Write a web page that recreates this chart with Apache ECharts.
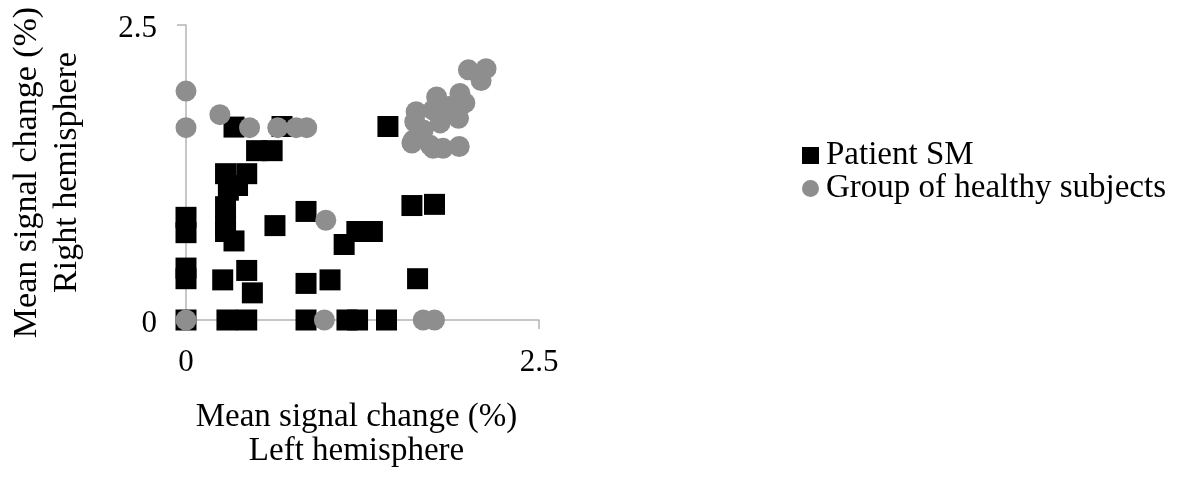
<!DOCTYPE html>
<html>
<head>
<meta charset="utf-8">
<title>Mean signal change: left vs right hemisphere</title>
<script src="https://cdn.jsdelivr.net/npm/echarts@6/dist/echarts.min.js"></script>
<style>
  html, body { margin: 0; padding: 0; background: #ffffff; }
  #chart { width: 1186px; height: 480px; }
</style>
</head>
<body>
<div id="chart"></div>
<script>
// Mean signal change (%) per region: [left hemisphere, right hemisphere]
const patientSM = [
  [0.34, 1.635], [0.68, 1.64], [1.43, 1.64],
  [0.50, 1.435], [0.61, 1.435],
  [0.28, 1.24], [0.43, 1.24],
  [0.365, 1.14], [0.30, 1.10],
  [0.28, 0.96],
  [0.28, 0.80], [0.28, 0.75], [0.34, 0.67],
  [0.63, 0.80], [0.85, 0.92],
  [0, 0.87], [0, 0.74], [0, 0.44], [0, 0.35],
  [0.26, 0.34], [0.43, 0.42], [0.47, 0.23],
  [0.85, 0.31], [1.02, 0.34], [1.12, 0.64], [1.21, 0.75], [1.32, 0.75],
  [1.60, 0.97], [1.76, 0.98], [1.64, 0.35],
  [0, 0], [0.29, 0], [0.43, 0], [0.85, 0], [1.14, 0], [1.215, 0], [1.42, 0]
];

const healthyGroup = [
  [0, 1.94], [0, 1.63], [0.24, 1.74], [0.45, 1.63], [0.65, 1.63], [0.78, 1.63], [0.855, 1.63],
  [0.99, 0.845], [0, 0], [0.98, 0], [1.68, 0], [1.76, 0],
  [2.0, 2.12], [2.125, 2.13], [2.09, 2.03],
  [1.775, 1.89], [1.94, 1.92], [1.975, 1.84], [1.86, 1.81], [1.75, 1.78],
  [1.63, 1.765], [1.62, 1.68], [1.93, 1.71], [1.8, 1.67], [1.68, 1.61],
  [1.61, 1.525], [1.6, 1.5], [1.73, 1.48], [1.75, 1.455], [1.82, 1.455], [1.935, 1.47]
];

const axisMin = 0;
const axisMax = 2.5;
const tickStep = 2.5;

const seriesNames = ['Patient SM', 'Group of healthy subjects'];
const xTitle = 'Mean signal change (%)\nLeft hemisphere';
const yTitle = 'Mean signal change (%)\nRight hemisphere';

const serif = "'Liberation Serif', 'Times New Roman', serif";
const axisGrey = '#b4b4b4';
const dotGrey = '#8e8e8e';

const chart = echarts.init(document.getElementById('chart'), null, { renderer: 'canvas' });

const axisCommon = {
  type: 'value',
  min: axisMin,
  max: axisMax,
  interval: tickStep,
  splitLine: { show: false },
  axisLine: { show: true, lineStyle: { color: axisGrey, width: 1.5 } },
  axisTick: { show: true, inside: false, length: 9, lineStyle: { color: axisGrey, width: 1.5 } },
  axisLabel: { color: '#000', fontFamily: serif, fontSize: 31 },
  nameLocation: 'middle'
};

chart.setOption({
  animation: false,
  backgroundColor: '#ffffff',
  grid: { left: 186, right: 647, top: 25, bottom: 160, containLabel: false },
  legend: {
    orient: 'vertical',
    left: 797,
    top: 134,
    itemWidth: 17,
    itemHeight: 17,
    itemGap: 0,
    textStyle: { color: '#000', fontFamily: serif, fontSize: 33, lineHeight: 31, padding: [0, 0, 0, 2] },
    data: [
      { name: seriesNames[0], icon: 'rect' },
      { name: seriesNames[1], icon: 'circle' }
    ]
  },
  xAxis: Object.assign({}, axisCommon, {
    name: xTitle,
    nameGap: 80,
    nameTextStyle: { color: '#000', fontFamily: serif, fontSize: 33, lineHeight: 34, padding: [0, 12, 0, 0] },
    axisLabel: Object.assign({}, axisCommon.axisLabel, { margin: 27 })
  }),
  yAxis: Object.assign({}, axisCommon, {
    name: yTitle,
    nameGap: 99,
    nameTextStyle: { color: '#000', fontFamily: serif, fontSize: 34, lineHeight: 40 },
    // labels sit a few pixels below their ticks
    axisLabel: Object.assign({}, axisCommon.axisLabel, { margin: 29, verticalAlign: 'top', lineHeight: 8 })
  }),
  series: [
    {
      name: seriesNames[0],
      type: 'scatter',
      symbol: 'rect',
      symbolSize: 21,
      itemStyle: { color: '#000000', opacity: 1 },
      emphasis: { disabled: true },
      data: patientSM,
      z: 2
    },
    {
      name: seriesNames[1],
      type: 'scatter',
      symbol: 'circle',
      symbolSize: 21,
      itemStyle: { color: dotGrey, opacity: 1 },
      emphasis: { disabled: true },
      data: healthyGroup,
      z: 3
    }
  ]
});
</script>
</body>
</html>
